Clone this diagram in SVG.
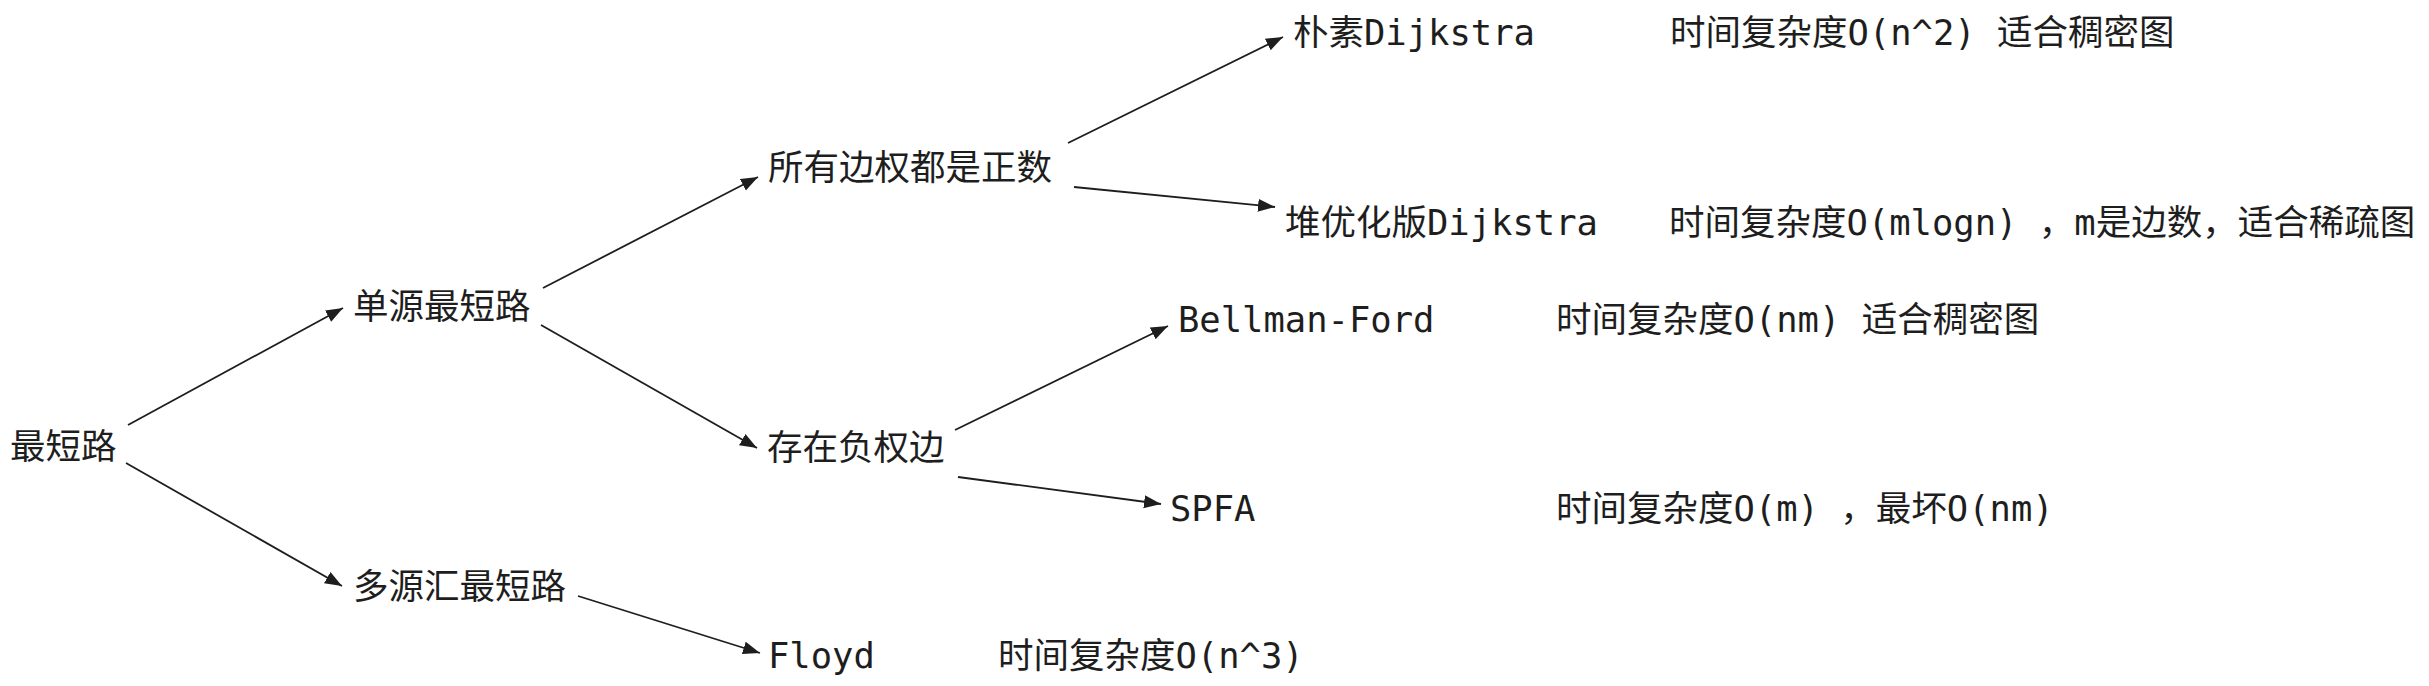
<svg xmlns="http://www.w3.org/2000/svg" width="2429" height="686" viewBox="0 0 2429 686">
<style>
text { font-family: "DejaVu Sans Mono", "Noto Sans CJK SC", monospace; font-size: 35.5px; fill: #1e1e1e; }
.conn line { stroke: #1e1e1e; stroke-width: 1.8; fill: none; marker-end: url(#ah); }
</style>
<defs>
<marker id="ah" markerUnits="userSpaceOnUse" markerWidth="18" markerHeight="14" refX="17" refY="6.5" orient="auto">
<path d="M0,0 L17,6.5 L0,13 z" fill="#1e1e1e"/>
</marker>
</defs>
<rect width="2429" height="686" fill="#ffffff"/>
<g id="n-root"><text x="10" y="459">最短路</text></g>
<g id="n-single"><text x="353" y="319">单源最短路</text></g>
<g id="n-multi"><text x="353" y="599">多源汇最短路</text></g>
<g id="n-positive"><text x="768" y="180">所有边权都是正数</text></g>
<g id="n-negative"><text x="767" y="460">存在负权边</text></g>
<g id="n-dijkstra"><text x="1293" y="45">朴素Dijkstra</text></g>
<g id="n-heap"><text x="1285" y="235">堆优化版Dijkstra</text></g>
<g id="n-bellman"><text x="1178" y="332">Bellman-Ford</text></g>
<g id="n-spfa"><text x="1170" y="521">SPFA</text></g>
<g id="n-floyd"><text x="768" y="668">Floyd</text></g>
<g id="t-dijkstra"><text x="1670" y="45">时间复杂度O(n^2) 适合稠密图</text></g>
<g id="t-heap"><text x="1669" y="235">时间复杂度O(mlogn) ，m是边数，适合稀疏图</text></g>
<g id="t-bellman"><text x="1556" y="332">时间复杂度O(nm) 适合稠密图</text></g>
<g id="t-spfa"><text x="1556" y="521">时间复杂度O(m) ，最坏O(nm)</text></g>
<g id="t-floyd"><text x="998" y="668">时间复杂度O(n^3)</text></g>
<g id="connectors" class="conn">
<line x1="128" y1="425" x2="343" y2="308"/>
<line x1="126" y1="463" x2="342" y2="586"/>
<line x1="543" y1="288" x2="758" y2="177"/>
<line x1="541" y1="325" x2="757" y2="448"/>
<line x1="1068" y1="143" x2="1283" y2="37"/>
<line x1="1074" y1="187" x2="1275" y2="207"/>
<line x1="955" y1="430" x2="1168" y2="326"/>
<line x1="958" y1="477" x2="1161" y2="504"/>
<line x1="578" y1="596" x2="760" y2="653"/>
</g>
</svg>
